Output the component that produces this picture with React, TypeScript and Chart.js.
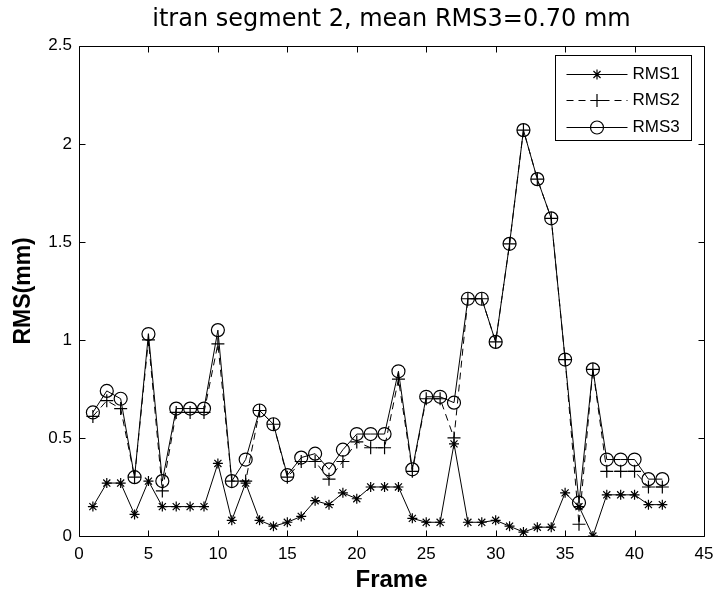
import React, { useEffect, useRef } from 'react';
import { Chart, registerables } from 'chart.js';
import { drawPoint } from 'chart.js/helpers';

Chart.register(...registerables);

const TITLE = 'itran segment 2, mean RMS3=0.70 mm';
const X_LABEL = 'Frame';
const Y_LABEL = 'RMS(mm)';
const SERIES_NAMES = ['RMS1', 'RMS2', 'RMS3'];

const frames = [1, 2, 3, 4, 5, 6, 7, 8, 9, 10, 11, 12, 13, 14, 15, 16, 17, 18, 19, 20, 21, 22, 23, 24, 25, 26, 27, 28, 29, 30, 31, 32, 33, 34, 35, 36, 37, 38, 39, 40, 41, 42];

const rms1 = [0.15, 0.27, 0.27, 0.11, 0.28, 0.15, 0.15, 0.15, 0.15, 0.37, 0.08, 0.27, 0.08, 0.05, 0.07, 0.10, 0.18, 0.16, 0.22, 0.19, 0.25, 0.25, 0.25, 0.09, 0.07, 0.07, 0.47, 0.07, 0.07, 0.08, 0.05, 0.02, 0.045, 0.045, 0.22, 0.15, 0.0, 0.21, 0.21, 0.21, 0.16, 0.16];

const rms2 = [0.61, 0.69, 0.65, 0.30, 1.00, 0.23, 0.63, 0.63, 0.63, 0.98, 0.28, 0.28, 0.64, 0.57, 0.30, 0.38, 0.38, 0.29, 0.38, 0.48, 0.45, 0.45, 0.80, 0.33, 0.70, 0.70, 0.50, 1.21, 1.21, 0.99, 1.49, 2.07, 1.82, 1.62, 0.90, 0.06, 0.85, 0.33, 0.33, 0.33, 0.25, 0.25];

const rms3 = [0.63, 0.74, 0.70, 0.30, 1.03, 0.28, 0.65, 0.65, 0.65, 1.05, 0.28, 0.39, 0.64, 0.57, 0.31, 0.40, 0.42, 0.34, 0.44, 0.52, 0.52, 0.52, 0.84, 0.34, 0.71, 0.71, 0.68, 1.21, 1.21, 0.99, 1.49, 2.07, 1.82, 1.62, 0.90, 0.17, 0.85, 0.39, 0.39, 0.39, 0.29, 0.29];

const X_MIN = 0;
const X_MAX = 45;
const X_STEP = 5;
const Y_MIN = 0;
const Y_MAX = 2.5;
const Y_STEP = 0.5;

const FONT = "'Liberation Sans', Arial, sans-serif";

const boxPlugin = {
  id: 'matlabBox',
  afterDraw(chart: any) {
    const { ctx, chartArea, scales } = chart;
    const { left, right, top, bottom } = chartArea;
    const L = Math.round(left) + 0.5;
    const R = Math.round(right) + 0.5;
    const T = Math.round(top) + 0.5;
    const B = Math.round(bottom) + 0.5;
    const tl = 6;
    ctx.save();
    ctx.strokeStyle = '#000';
    ctx.lineWidth = 1;
    ctx.setLineDash([]);
    ctx.beginPath();
    ctx.rect(L, T, R - L, B - T);
    ctx.stroke();
    ctx.beginPath();
    scales.x.ticks.forEach((t: any) => {
      const px = Math.round(scales.x.getPixelForValue(t.value)) + 0.5;
      ctx.moveTo(px, B);
      ctx.lineTo(px, B - tl);
      ctx.moveTo(px, T);
      ctx.lineTo(px, T + tl);
    });
    scales.y.ticks.forEach((t: any) => {
      const py = Math.round(scales.y.getPixelForValue(t.value)) + 0.5;
      ctx.moveTo(L, py);
      ctx.lineTo(L + tl, py);
      ctx.moveTo(R, py);
      ctx.lineTo(R - tl, py);
    });
    ctx.stroke();

    // legend box (MATLAB style)
    const bw = 136;
    const bh = 85;
    const bx = Math.round(right) - 13 - bw + 0.5;
    const by = Math.round(top) + 9 + 0.5;
    ctx.fillStyle = '#fff';
    ctx.fillRect(bx, by, bw, bh);
    ctx.strokeRect(bx, by, bw, bh);
    const rows = [18, 44.5, 71];
    chart.data.datasets.forEach((ds: any, i: number) => {
      const ry = Math.round(by + rows[i]) + 0.5;
      const x1 = bx + 11;
      const x2 = bx + 72;
      ctx.save();
      ctx.strokeStyle = '#000';
      ctx.lineWidth = ds.borderWidth || 1;
      ctx.setLineDash(ds.borderDash || []);
      ctx.beginPath();
      ctx.moveTo(x1, ry);
      ctx.lineTo(x2, ry);
      ctx.stroke();
      ctx.setLineDash([]);
      ctx.fillStyle = ds.pointBackgroundColor;
      ctx.strokeStyle = ds.pointBorderColor;
      ctx.lineWidth = ds.pointBorderWidth;
      drawPoint(ctx, { pointStyle: ds.pointStyle, radius: ds.pointRadius, rotation: 0, borderWidth: ds.pointBorderWidth }, (x1 + x2) / 2, ry);
      ctx.restore();
      ctx.fillStyle = '#000';
      ctx.font = `17px ${FONT}`;
      ctx.textAlign = 'left';
      ctx.textBaseline = 'middle';
      ctx.fillText(ds.label, bx + 77, ry);
    });
    ctx.restore();
  },
};

function toPoints(ys: number[]) {
  return frames.map((f, i) => ({ x: f, y: ys[i] }));
}

export default function App() {
  const canvasRef = useRef<HTMLCanvasElement | null>(null);

  useEffect(() => {
    document.body.style.margin = '0';
    const canvas = canvasRef.current;
    if (!canvas) return;
    const chart = new Chart(canvas, {
      type: 'line',
      data: {
        datasets: [
          {
            label: SERIES_NAMES[0],
            data: toPoints(rms1),
            borderColor: '#000',
            borderWidth: 1,
            pointStyle: 'star',
            pointRadius: 5,
            pointBorderColor: '#000',
            pointBackgroundColor: 'rgba(0,0,0,0)',
            pointBorderWidth: 1.2,
            fill: false,
            tension: 0,
          },
          {
            label: SERIES_NAMES[1],
            data: toPoints(rms2),
            borderColor: '#000',
            borderWidth: 1,
            borderDash: [7, 5],
            pointStyle: 'cross',
            pointRadius: 6.5,
            pointBorderColor: '#000',
            pointBackgroundColor: 'rgba(0,0,0,0)',
            pointBorderWidth: 1.2,
            fill: false,
            tension: 0,
          },
          {
            label: SERIES_NAMES[2],
            data: toPoints(rms3),
            borderColor: '#000',
            borderWidth: 1,
            pointStyle: 'circle',
            pointRadius: 6.5,
            pointBorderColor: '#000',
            pointBackgroundColor: 'rgba(0,0,0,0)',
            pointBorderWidth: 1.2,
            fill: false,
            tension: 0,
          },
        ],
      } as any,
      options: {
        animation: false,
        responsive: false,
        devicePixelRatio: 1,
        layout: { padding: { left: 0, right: 10, top: 0, bottom: 0 } },
        plugins: {
          legend: { display: false },
          tooltip: { enabled: false },
          title: {
            display: true,
            fullSize: false,
            text: TITLE,
            color: '#000',
            font: { family: "'DejaVu Sans', sans-serif", size: 24, weight: 'normal' },
            padding: { top: 5, bottom: 12 },
          },
        },
        scales: {
          x: {
            type: 'linear',
            min: X_MIN,
            max: X_MAX,
            grid: { display: false, drawTicks: false },
            border: { display: false },
            ticks: { stepSize: X_STEP, color: '#000', font: { family: FONT, size: 17 }, padding: 8, maxRotation: 0 },
            title: { display: true, text: X_LABEL, color: '#000', font: { family: FONT, size: 24, weight: 'bold' }, padding: { top: 0, bottom: 2 } },
            afterFit: (s: any) => { s.height = 61; s.paddingLeft = 0; s.paddingRight = 0; },
          },
          y: {
            type: 'linear',
            min: Y_MIN,
            max: Y_MAX,
            grid: { display: false, drawTicks: false },
            border: { display: false },
            ticks: {
              stepSize: Y_STEP,
              color: '#000',
              font: { family: FONT, size: 17 },
              padding: 7,
              callback: (v: any) => String(Number(v)),
            },
            title: { display: true, text: Y_LABEL, color: '#000', font: { family: FONT, size: 23, weight: 'bold' }, padding: { top: 10, bottom: 0 } },
            afterFit: (s: any) => { s.width = 79; s.paddingTop = 0; s.paddingBottom = 0; },
          },
        },
      } as any,
      plugins: [boxPlugin],
    });
    return () => chart.destroy();
  }, []);

  return (
    <div style={{ width: 714, height: 597 }}>
      <canvas ref={canvasRef} width={714} height={597} style={{ display: 'block' }} />
    </div>
  );
}
